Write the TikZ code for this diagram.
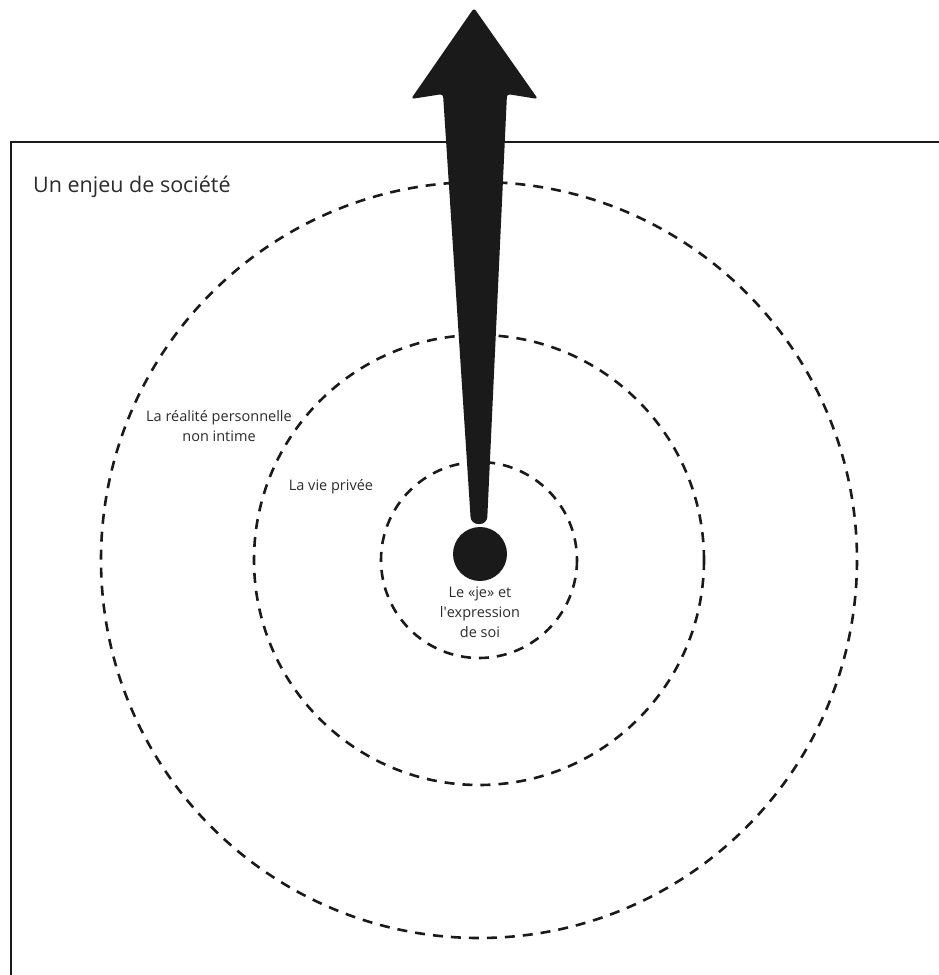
\documentclass[tikz,border=0pt]{standalone}
\usepackage{fontspec}
\setmainfont{Open Sans}
\usepackage{xcolor}
\usepackage{tikz}
\usetikzlibrary{positioning}

\definecolor{ink}{HTML}{1A1A1A}
\definecolor{txt}{HTML}{2B2B2B}

\begin{document}
\begin{tikzpicture}[
    x=1pt, y=-1pt,
    ring/.style={draw=ink, line width=2.6pt, dash pattern=on 10pt off 8pt},
    lab/.style={font=\fontsize{14.5}{20}\selectfont, text=txt, align=center, inner sep=0pt},
    big/.style={font=\fontsize{21.5}{26}\selectfont, text=txt, inner sep=0pt, anchor=west},
]
    \useasboundingbox (0,0) rectangle (939,975);

    % ---------- cadre ----------
    \draw[ink, line width=1.8pt] (11,975) -- (11,142) -- (939,142);
    \node[big] (soc) at (33,187) {Un enjeu de société};

    % ---------- cercles ----------
    \coordinate (c) at (479,560);
    \draw[ring] (c) circle[radius=378];
    \draw[ring] (c) circle[radius=225];
    \draw[ring] (c) circle[radius=98];

    % ---------- flèche et point ----------
    \fill[ink, rounded corners=3pt] (474,8) -- (538,99) -- (507,94)
        [rounded corners=7pt] -- (487,524) -- (471,524)
        [rounded corners=3pt] -- (443,94) -- (411,99) -- cycle;
    \fill[ink] (480,554) circle[radius=27];

    % ---------- étiquettes ----------
    \node[lab] (reel) at (219,426) {La réalité personnelle\\non intime};
    \node[lab] (vie)  at (331,487) {La vie privée};
    \node[lab] (je)   at (480,612) {Le «je» et\\l\textquotesingle expression\\de soi};
\end{tikzpicture}
\end{document}
